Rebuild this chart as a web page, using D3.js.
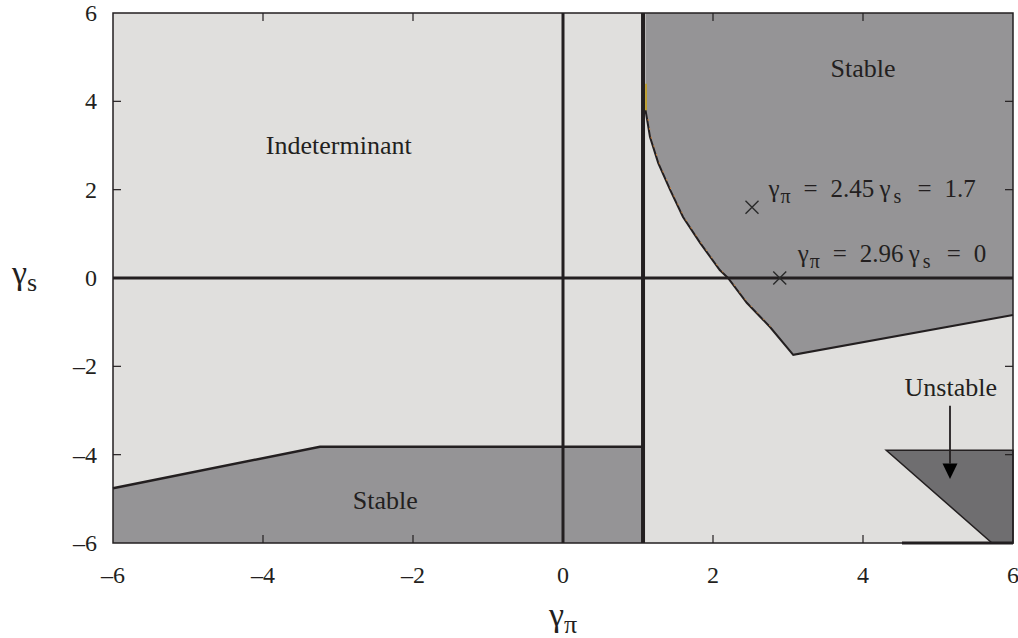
<!DOCTYPE html>
<html>
<head>
<meta charset="utf-8">
<script src="https://cdn.jsdelivr.net/npm/d3@7"></script>
<style>
    body { margin: 0; background: #ffffff; }
</style>
</head>
<body>
<svg id="chart" width="1018" height="638"></svg>
<script>

// tick values on both axes
let xTicks = [-6, -4, -2, 0, 2, 4, 6];
let yTicks = [-6, -4, -2, 0, 2, 4, 6];

// region boundaries (gamma_pi, gamma_s)
let stableUpper = [[1.1, 6], [1.1, 3.8], [1.12, 3.6], [1.16, 3.19], [1.27, 2.6], [1.43, 1.99],
    [1.6, 1.38], [1.83, 0.79], [2.09, 0.18], [2.2, 0], [2.45, -0.56], [2.76, -1.11],
    [3.07, -1.74], [6, -0.84], [6, 6]];
let stableLower = [[-6, -6], [-6, -4.76], [-3.24, -3.82], [1.07, -3.82], [1.07, -6]];
let unstable = [[4.31, -3.9], [6, -3.9], [6, -6], [5.72, -6]];

// the two marked points and their labels
let markers = [
    {x: 2.52, y: 1.6, gp: "2.45", gs: "1.7", lx: 2.74, ly: 1.83},
    {x: 2.89, y: 0, gp: "2.96", gs: "0", lx: 3.13, ly: 0.36}
];

// region labels
let regionLabels = [
    {text: "Stable", x: 4.0, y: 4.56},
    {text: "Indeterminant", x: -2.99, y: 2.8},
    {text: "Stable", x: -2.37, y: -5.22},
    {text: "Unstable", x: 5.17, y: -2.67}
];

let dark = "#231f20";
let serif = "'Liberation Serif', 'Times New Roman', Times, serif";

let svg = d3.select("#chart")
    .attr("font-family", serif);

let margin = {left: 113, right: 5, top: 13, bottom: 95};
let w = 1018 - margin.left - margin.right;
let h = 638 - margin.top - margin.bottom;

let xScale = d3.scaleLinear().domain([-6, 6]).range([margin.left, margin.left + w]);
let yScale = d3.scaleLinear().domain([-6, 6]).range([margin.top + h, margin.top]);

let line = d3.line().x(d => xScale(d[0])).y(d => yScale(d[1]));

// background = indeterminant region
svg.append("rect")
    .attr("x", xScale(-6)).attr("y", yScale(6))
    .attr("width", w).attr("height", h)
    .attr("fill", "#e0dfdd");

// stable regions
svg.append("path")
    .attr("d", line(stableUpper) + "Z")
    .attr("fill", "#959496");

svg.append("path")
    .attr("d", line(stableLower) + "Z")
    .attr("fill", "#959496");

// unstable region
svg.append("path")
    .attr("d", line(unstable) + "Z")
    .attr("fill", "#6f6e70")
    .attr("stroke", dark)
    .attr("stroke-width", 1.5);

// boundary lines
svg.append("path")
    .attr("d", line(stableUpper.slice(1, 14)))
    .attr("fill", "none")
    .attr("stroke", dark)
    .attr("stroke-width", 2);

svg.append("path")
    .attr("d", line(stableUpper.slice(2, 12)))
    .attr("fill", "none")
    .attr("stroke", "#c9803a")
    .attr("stroke-width", 1)
    .attr("stroke-dasharray", "2,7")
    .attr("transform", "translate(1,0)");

svg.append("path")
    .attr("d", line(stableLower.slice(1, 4)))
    .attr("fill", "none")
    .attr("stroke", dark)
    .attr("stroke-width", 2.5);

// yellow sliver along the vertical boundary
svg.append("line")
    .attr("x1", xScale(1.107)).attr("x2", xScale(1.107))
    .attr("y1", yScale(4.4)).attr("y2", yScale(3.8))
    .attr("stroke", "#c8a010").attr("stroke-width", 1.5);

// reference lines
svg.append("line")
    .attr("x1", xScale(0)).attr("x2", xScale(0))
    .attr("y1", yScale(6)).attr("y2", yScale(-6))
    .attr("stroke", dark).attr("stroke-width", 3);

svg.append("line")
    .attr("x1", xScale(1.067)).attr("x2", xScale(1.067))
    .attr("y1", yScale(6)).attr("y2", yScale(-6))
    .attr("stroke", dark).attr("stroke-width", 4);

svg.append("line")
    .attr("x1", xScale(-6)).attr("x2", xScale(6))
    .attr("y1", yScale(0)).attr("y2", yScale(0))
    .attr("stroke", dark).attr("stroke-width", 3);

svg.append("line")
    .attr("x1", xScale(4.52)).attr("x2", xScale(6))
    .attr("y1", yScale(-6)).attr("y2", yScale(-6))
    .attr("stroke", dark).attr("stroke-width", 3);

// frame
svg.append("rect")
    .attr("x", xScale(-6)).attr("y", yScale(6))
    .attr("width", w).attr("height", h)
    .attr("fill", "none")
    .attr("stroke", dark).attr("stroke-width", 1.5);

// inward ticks on all four sides
let tickLen = 8;
let inner = xTicks.slice(1, -1);

svg.selectAll(".tb").data(inner).enter().append("line")
    .attr("x1", d => xScale(d)).attr("x2", d => xScale(d))
    .attr("y1", yScale(-6)).attr("y2", yScale(-6) - tickLen)
    .attr("stroke", dark).attr("stroke-width", 1.2);
svg.selectAll(".tt").data(inner).enter().append("line")
    .attr("x1", d => xScale(d)).attr("x2", d => xScale(d))
    .attr("y1", yScale(6)).attr("y2", yScale(6) + tickLen)
    .attr("stroke", dark).attr("stroke-width", 1.2);
svg.selectAll(".tl").data(yTicks.slice(1, -1)).enter().append("line")
    .attr("x1", xScale(-6)).attr("x2", xScale(-6) + tickLen)
    .attr("y1", d => yScale(d)).attr("y2", d => yScale(d))
    .attr("stroke", dark).attr("stroke-width", 1.2);
svg.selectAll(".tr").data(yTicks.slice(1, -1)).enter().append("line")
    .attr("x1", xScale(6)).attr("x2", xScale(6) - tickLen)
    .attr("y1", d => yScale(d)).attr("y2", d => yScale(d))
    .attr("stroke", dark).attr("stroke-width", 1.2);

// tick labels
let fmt = d => d < 0 ? "\u2013" + Math.abs(d) : String(d);

svg.selectAll(".xl").data(xTicks).enter().append("text")
    .attr("x", d => xScale(d))
    .attr("y", yScale(-6) + 40)
    .attr("text-anchor", "middle")
    .attr("font-size", 24)
    .attr("fill", dark)
    .text(fmt);

svg.selectAll(".yl").data(yTicks).enter().append("text")
    .attr("x", xScale(-6) - 16)
    .attr("y", d => yScale(d) + 8)
    .attr("text-anchor", "end")
    .attr("font-size", 24)
    .attr("fill", dark)
    .text(fmt);

// axis titles
function greekLabel(x, y, main, sub, size, subSize, anchor) {
    let t = svg.append("text")
        .attr("x", x).attr("y", y)
        .attr("font-size", size)
        .attr("fill", dark)
        .attr("text-anchor", anchor);
    t.append("tspan").text(main);
    t.append("tspan").attr("font-size", subSize).attr("dy", size * 0.22).text(sub);
    return t;
}

greekLabel(xScale(0), 626, "\u03b3", "\u03c0", 34, 26, "middle");
greekLabel(12, yScale(0) + 6, "\u03b3", "s", 34, 26, "start");

// region labels
svg.selectAll(".rl").data(regionLabels).enter().append("text")
    .attr("x", d => xScale(d.x))
    .attr("y", d => yScale(d.y))
    .attr("text-anchor", "middle")
    .attr("font-size", 26)
    .attr("fill", dark)
    .text(d => d.text);

// arrow pointing into the unstable region
let ax = xScale(5.16);
svg.append("line")
    .attr("x1", ax).attr("x2", ax)
    .attr("y1", yScale(-2.89)).attr("y2", yScale(-4.2))
    .attr("stroke", dark).attr("stroke-width", 1.8);
svg.append("path")
    .attr("d", `M${ax - 7.5},${yScale(-4.2)} L${ax + 7.5},${yScale(-4.2)} L${ax},${yScale(-4.55)} Z`)
    .attr("fill", "#000");

// markers and their labels
let cross = 6.5;
markers.forEach(m => {
    let cx = xScale(m.x), cy = yScale(m.y);
    svg.append("path")
        .attr("d", `M${cx - cross},${cy - cross}L${cx + cross},${cy + cross}M${cx - cross},${cy + cross}L${cx + cross},${cy - cross}`)
        .attr("stroke", "#2a2a2a").attr("stroke-width", 1.4);

    let x0 = xScale(m.lx), y0 = yScale(m.ly);
    let parts = [
        {t: "\u03b3", dx: 0}, {t: "\u03c0", dx: 12, sub: true},
        {t: "=", dx: 35}, {t: m.gp, dx: 62},
        {t: "\u03b3", dx: 111}, {t: "s", dx: 125, sub: true},
        {t: "=", dx: 149}, {t: m.gs, dx: 176}
    ];
    let t = svg.append("text").attr("y", y0).attr("font-size", 25).attr("fill", dark);
    parts.forEach(p => {
        t.append("tspan")
            .attr("x", x0 + p.dx)
            .attr("y", p.sub ? y0 + 6 : y0)
            .attr("font-size", p.sub ? 20 : 25)
            .text(p.t);
    });
});

</script>
</body>
</html>
